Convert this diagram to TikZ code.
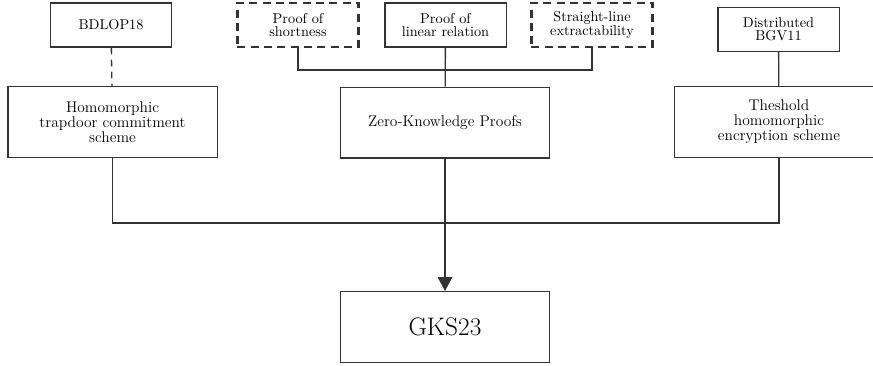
\documentclass[tikz,border=0pt]{standalone}
\usetikzlibrary{arrows.meta}
\tikzset{
	small box/.style={draw=black!80, line width=1pt, align=center, font=\fontsize{10.7}{10}\selectfont, inner sep=2pt, minimum width=91pt, minimum height=33pt},
	open box/.style={small box, dashed, line width=1.9pt, dash pattern=on 6pt off 4pt},
	big box/.style={draw=black!80, line width=1pt, align=center, font=\fontsize{11.6}{11.3}\selectfont, minimum width=157pt, minimum height=53pt},
	link/.style={draw=black!80, line width=1pt}
}
\begin{document}
\begin{tikzpicture}[x=0.75pt, y=-0.75pt]
	\useasboundingbox (0,0) rectangle (873,365);
	\clip (0,0) rectangle (873,365);
	\node [small box] (bdlop) at (111,25) {BDLOP18};
	\node [open box] (short) at (298,25) {Proof of\\shortness};
	\node [small box] (linrel) at (445.5,25) {Proof of\\linear relation};
	\node [open box] (straight) at (592,25) {Straight-line\\extractability};
	\node [small box] (dist) at (778.5,29.5) {Distributed\\BGV11};
	\node [big box] (homo) at (112.5,122) {Homomorphic\\trapdoor commitment\\scheme};
	\node [big box] (zkp) at (445,122.5) {Zero-Knowledge Proofs};
	\node [big box] (thresh) at (779,122) {Theshold\\homomorphic\\encryption scheme};
	\node [big box, font=\fontsize{19}{20}\selectfont] (gks) at (445,327) {GKS23};
	\coordinate (proofjoin) at (445,70);
	\coordinate (gksjoin) at (445,223);
	\draw [link, dashed, dash pattern=on 5pt off 4pt] (bdlop) -- (homo);
	\draw [link] (short.south) |- (proofjoin) -| (straight.south);
	\foreach \no/\nt in {linrel/zkp, dist/thresh}
	{
		\draw [link] (\no) -- (\nt);
	}
	\draw [link] (homo.south) |- (gksjoin) -| (thresh.south);
	\draw [link, -{Triangle[width=11pt, length=10.5pt]}] (zkp) -- (gks);
\end{tikzpicture}
\end{document}
